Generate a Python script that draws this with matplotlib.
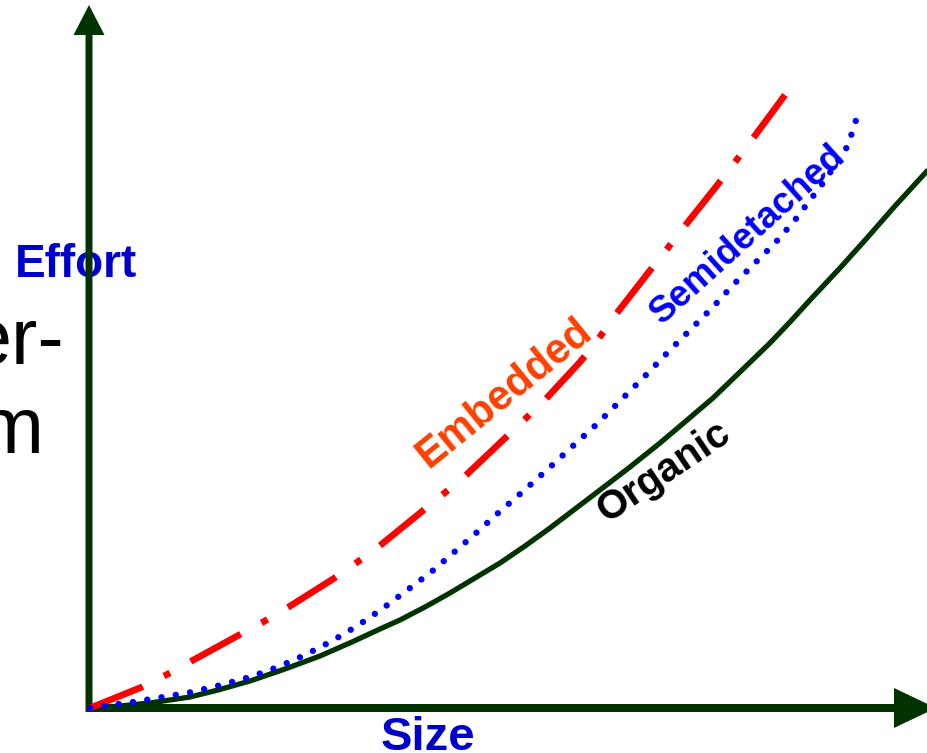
#!/usr/bin/env python3
"""
COCOMO modes sketch: Effort vs Size for the three project classes.
"""

import matplotlib
matplotlib.use("Agg")
import matplotlib.pyplot as plt
from matplotlib.patches import FancyArrow

# values (arbitrary units: size, effort)
embedded_size = [0, 52, 76, 149, 173, 197, 243, 266, 287, 330, 352, 373,
                 413, 433, 453, 490, 507, 523, 558, 574, 590, 625, 642,
                 658, 692, 695]
embedded_effort = [0, 21, 33, 73, 86, 100, 129, 145, 160, 195, 213, 230,
                   268, 287, 306, 346, 367, 390, 435, 455, 476, 520, 542,
                   563, 609, 613]

semi_size = [0, 13, 43, 73, 102, 131, 160, 188, 215, 242, 267, 292, 316,
             340, 362, 385, 407, 430, 458, 485, 507, 528, 555, 580, 603,
             623, 643, 664, 685, 705, 733, 750, 757, 762, 767]
semi_effort = [0, 2, 6, 11, 16, 23, 31, 41, 53, 67, 82, 99, 117, 135, 154,
               174, 194, 214, 239, 264, 284, 305, 332, 358, 381, 401, 423,
               444, 465, 488, 525, 550, 561, 575, 591]

organic_size = [0, 20, 40, 60, 80, 100, 128, 160, 195, 230, 262, 290, 310,
                335, 360, 385, 410, 435, 460, 485, 510, 540, 570, 596, 623,
                650, 680, 700, 720, 750, 777, 805, 838, 850]
organic_effort = [0, 1, 3, 5, 8, 11, 18, 27, 39, 52, 66, 79, 88, 101, 115,
                  130, 145, 162, 180, 199, 218, 241, 265, 287, 310, 336,
                  365, 386, 408, 440, 470, 502, 538, 551]

mode_labels = ["Embedded", "Semidetached", "Organic"]

DARK_GREEN = "#003300"

plt.rcParams["font.family"] = ["Liberation Sans", "DejaVu Sans"]
plt.rcParams["lines.scale_dashes"] = False

fig = plt.figure(figsize=(9.28, 7.53), dpi=100)
ax = fig.add_axes([0, 0, 1, 1])
ax.set_xlim(-90, 838)
ax.set_ylim(-45, 708)
ax.axis("off")

# axes as arrows
ax.add_patch(FancyArrow(-1, -4, 0, 707, width=7, head_width=31,
                        head_length=30, length_includes_head=True,
                        color=DARK_GREEN, lw=0, zorder=3))
ax.add_patch(FancyArrow(-4, 0, 850, 0, width=8, head_width=40,
                        head_length=42, length_includes_head=True,
                        color=DARK_GREEN, lw=0, zorder=3))

# curves
ax.plot(organic_size, organic_effort, color=DARK_GREEN, lw=3.8,
        solid_capstyle="butt", solid_joinstyle="round", zorder=4)
ax.plot(embedded_size, embedded_effort, color="#FF0000", lw=4.8,
        linestyle=(0, (41, 17, 5, 17)), dash_capstyle="butt", zorder=5)
ax.plot(semi_size, semi_effort, color="#0000FF", lw=4.6,
        linestyle=(0, (0.01, 10.4)), dash_capstyle="round", zorder=6)

# rotated curve labels
ax.text(421, 306, mode_labels[0], color="#FF4000", fontsize=30,
        fontweight="bold", rotation=39, rotation_mode="anchor",
        ha="center", va="baseline", zorder=5)
ax.text(665, 466, mode_labels[1], color="#0000FF", fontsize=26.5,
        fontweight="bold", rotation=42, rotation_mode="anchor",
        ha="center", va="baseline", zorder=5)
ax.text(580, 227, mode_labels[2], color="black", fontsize=29,
        fontweight="bold", rotation=34, rotation_mode="anchor",
        ha="center", va="baseline", zorder=5)

# axis titles
ax.text(-75, 431, "Effort", color="#0000CC", fontsize=33,
        fontweight="bold", ha="left", va="baseline", zorder=2)
ax.text(291, -42, "Size", color="#0000CC", fontsize=34,
        fontweight="bold", ha="left", va="baseline", zorder=2)

# leftover slide text cut at the edge
ax.text(-26, 344, "er-", color="black", fontsize=57, ha="right",
        va="baseline", zorder=1)
ax.text(-46, 255, "m", color="black", fontsize=57, ha="right",
        va="baseline", zorder=1)

fig.savefig("out.png", dpi=100)
